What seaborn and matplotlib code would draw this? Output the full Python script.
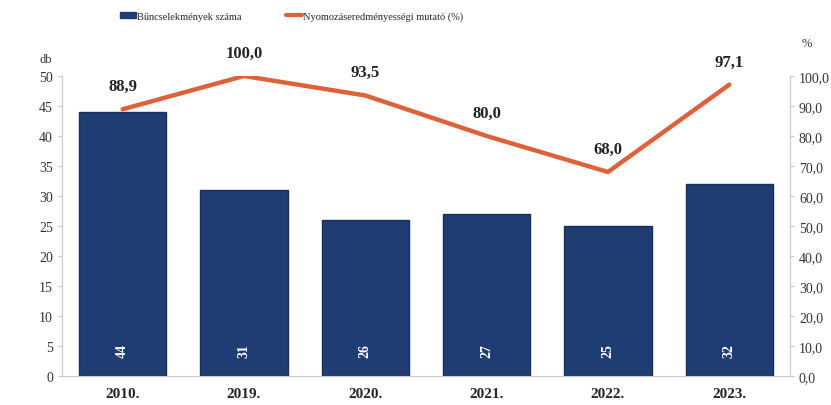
import numpy as np
import pandas as pd
import matplotlib
matplotlib.use("Agg")
import matplotlib.pyplot as plt
import seaborn as sns
from matplotlib.patches import Patch
from matplotlib.lines import Line2D

years = ["2010.", "2019.", "2020.", "2021.", "2022.", "2023."]
crimes = [44, 31, 26, 27, 25, 32]
rates = [88.9, 100.0, 93.5, 80.0, 68.0, 97.1]

bar_color = "#1f3d72"
line_color = "#dd6139"
grey = "#c8c8c8"

sns.set_style("white")
plt.rcParams["font.family"] = ["Liberation Serif", "DejaVu Serif"]


def fmt(v):
    return f"{v:.1f}".replace(".", ",")


df = pd.DataFrame({"year": years, "crimes": crimes, "rate": rates})

fig = plt.figure(figsize=(8.31, 4.06), dpi=100)
ax = fig.add_axes([0.0746, 0.0714, 0.876, 0.739])

sns.barplot(data=df, x="year", y="crimes", color=bar_color, width=0.72,
            saturation=1, edgecolor="#17305c", linewidth=1, ax=ax)
ax.set_ylim(0, 50)
ax.set_yticks(range(0, 51, 5))
ax.set_xlabel("")
ax.set_ylabel("")
ax.tick_params(axis="y", labelsize=10, colors="#333333", length=3, color=grey, left=True)
ax.tick_params(axis="x", labelsize=11, length=0, pad=8)
for lab in ax.get_xticklabels():
    lab.set_fontweight("bold")
for sp in ["top", "right"]:
    ax.spines[sp].set_visible(False)
for sp in ["left", "bottom"]:
    ax.spines[sp].set_color(grey)
    ax.spines[sp].set_linewidth(0.8)

for i, v in enumerate(crimes):
    ax.text(i, 3.2, str(v), rotation=90, color="white", fontsize=10,
            fontweight="bold", ha="center", va="bottom")

ax2 = ax.twinx()
sns.lineplot(x=np.arange(len(years)), y=rates, color=line_color, linewidth=3.2, ax=ax2)
ax2.set_ylim(0, 100)
ax2.set_yticks(range(0, 101, 10))
ax2.set_yticklabels([fmt(t) for t in range(0, 101, 10)])
ax2.tick_params(axis="y", labelsize=10, colors="#333333", length=3, color=grey, right=True)
for sp in ["top", "left", "bottom"]:
    ax2.spines[sp].set_visible(False)
ax2.spines["right"].set_color(grey)
ax2.spines["right"].set_linewidth(0.8)
ax.set_xlim(-0.5, len(years) - 0.5)

for i, v in enumerate(rates):
    ax2.annotate(fmt(v), (i, v), xytext=(0, 11), textcoords="offset points",
                 ha="center", va="bottom", fontsize=12, fontweight="bold", color="#222222")

fig.text(0.048, 0.845, "db", fontsize=9, color="#333333")
fig.text(0.965, 0.885, "%", fontsize=9, color="#333333")

handles = [Patch(facecolor=bar_color, edgecolor=bar_color),
           Line2D([0], [0], color=line_color, linewidth=3)]
fig.legend(handles, ["Bűncselekmények száma", "Nyomozáseredményességi mutató (%)"],
           loc="center", bbox_to_anchor=(0.351, 0.958), ncol=2, frameon=False,
           fontsize=7.5, handlelength=1.6, handletextpad=0.1, columnspacing=4.2,
           handleheight=0.6)

fig.savefig("out.png", dpi=100)
